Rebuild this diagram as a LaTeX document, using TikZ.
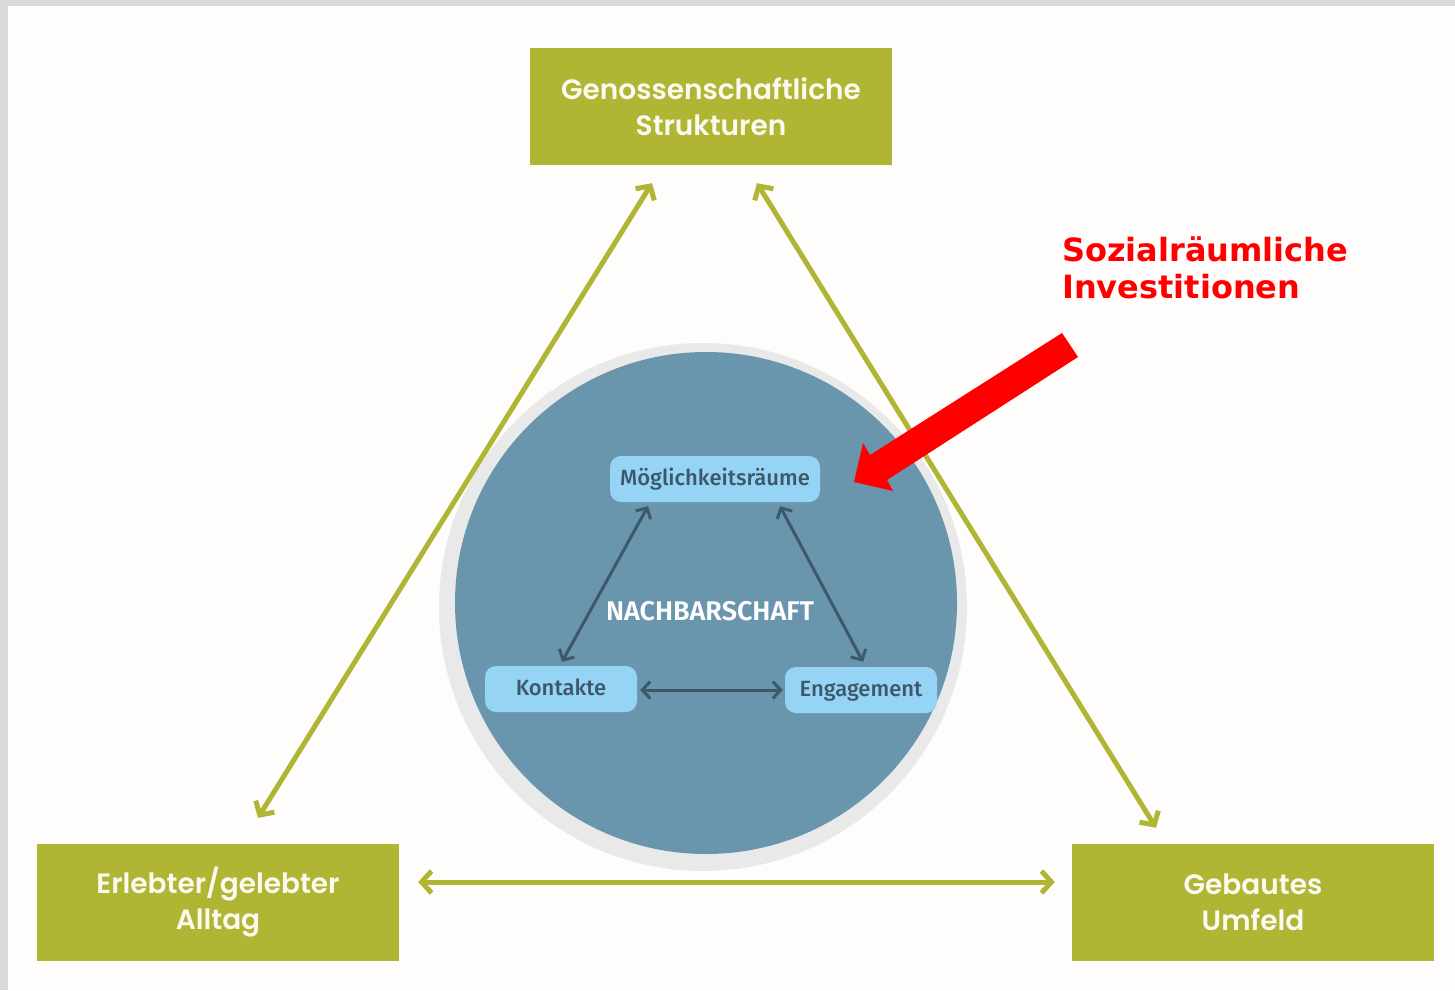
\documentclass[tikz,border=0pt]{standalone}
\usepackage{fontspec}
\usetikzlibrary{arrows.meta,calc}
\newfontfamily\popfont{Poppins}[UprightFont=* SemiBold]
\newfontfamily\firafont{Fira Sans}[UprightFont=* Medium, BoldFont=* SemiBold]
\newfontfamily\redfont{DejaVu Sans}
\definecolor{cOlive}{HTML}{B0B534}
\definecolor{cBoxText}{HTML}{FAFAF0}
\definecolor{cFrame}{HTML}{D9D9D9}
\definecolor{cBg}{HTML}{FEFDFB}
\definecolor{cRing}{HTML}{E9E9EA}
\definecolor{cCircle}{HTML}{6996AD}
\definecolor{cLight}{HTML}{96D4F5}
\definecolor{cDark}{HTML}{3D5868}
\definecolor{cRed}{HTML}{FF0000}
\begin{document}
\begin{tikzpicture}[x=1pt,y=-1pt,
  gbox/.style={fill=cOlive, text=cBoxText, minimum width=362pt, minimum height=117pt,
    inner sep=0pt, align=center, font=\popfont\fontsize{28}{36}\selectfont},
  bbox/.style={fill=cLight, text=cDark, rounded corners=11pt, minimum height=46pt,
    inner sep=0pt, text height=16pt, text depth=4pt, font=\firafont\fontsize{22}{26}\selectfont},
  garrow/.style={draw=cOlive, line width=5pt,
    {Straight Barb[length=10pt,width=22pt]}-{Straight Barb[length=10pt,width=22pt]}},
  darrow/.style={draw=cDark, line width=3pt,
    {Straight Barb[length=8pt,width=17pt]}-{Straight Barb[length=8pt,width=17pt]}},
]
\useasboundingbox (0,0) rectangle (1455,990);
\fill[cFrame] (0,0) rectangle (1455,990);
\fill[cBg] (8,6) rectangle (1455,990);

% circle
\fill[cRing] (703,607) circle[radius=264];
\fill[cCircle] (706,603) circle[radius=251];

% outer boxes
\node[gbox] (G) at (711,106.5) {Genossenschaftliche\\Strukturen};
\node[gbox] (A) at (218,902.5) {Erlebter/gelebter\\Alltag};
\node[gbox] (U) at (1253,902.5) {Gebautes\\Umfeld};

% green arrows
\draw[garrow] ($(G.south)+(-59,18)$) -- ($(A.north)+(40,-26)$);
\draw[garrow] ($(G.south)+(46,18)$) -- ($(U.north)+(-97,-16)$);
\draw[garrow] ($(A.east)+(19,-20.5)$) -- ($(U.west)+(-17,-20.5)$);

% inner nodes
\node[bbox, minimum width=210pt] (M) at (715,479) {Möglichkeitsräume};
\node[bbox, minimum width=152pt] (K) at (561,689) {Kontakte};
\node[bbox, minimum width=152pt] (E) at (861,690) {Engagement};
\node[text=white, font=\firafont\bfseries\fontsize{27}{30}\selectfont] (N) at (710,611) {NACHBARSCHAFT};

\draw[darrow] ($(K.north)+(1,-4)$) -- ($(M.south)+(-67,4)$);
\draw[darrow] ($(M.south)+(65,4)$) -- ($(E.north)+(2,-5)$);
\draw[darrow] ($(K.east)+(3,1)$) -- ($(E.west)+(-2,0)$);

% red annotation
\node[anchor=north west, inner sep=0pt, align=left, text=cRed,
  font=\redfont\bfseries\fontsize{32}{37}\selectfont] (S) at (1062,237) {Sozialräumliche\\Investitionen};
\fill[cRed] (1062,333) -- (870,455) -- (863,443) -- (854,482) -- (893,491) -- (887,480) -- (1078,357) -- cycle;
\end{tikzpicture}
\end{document}
